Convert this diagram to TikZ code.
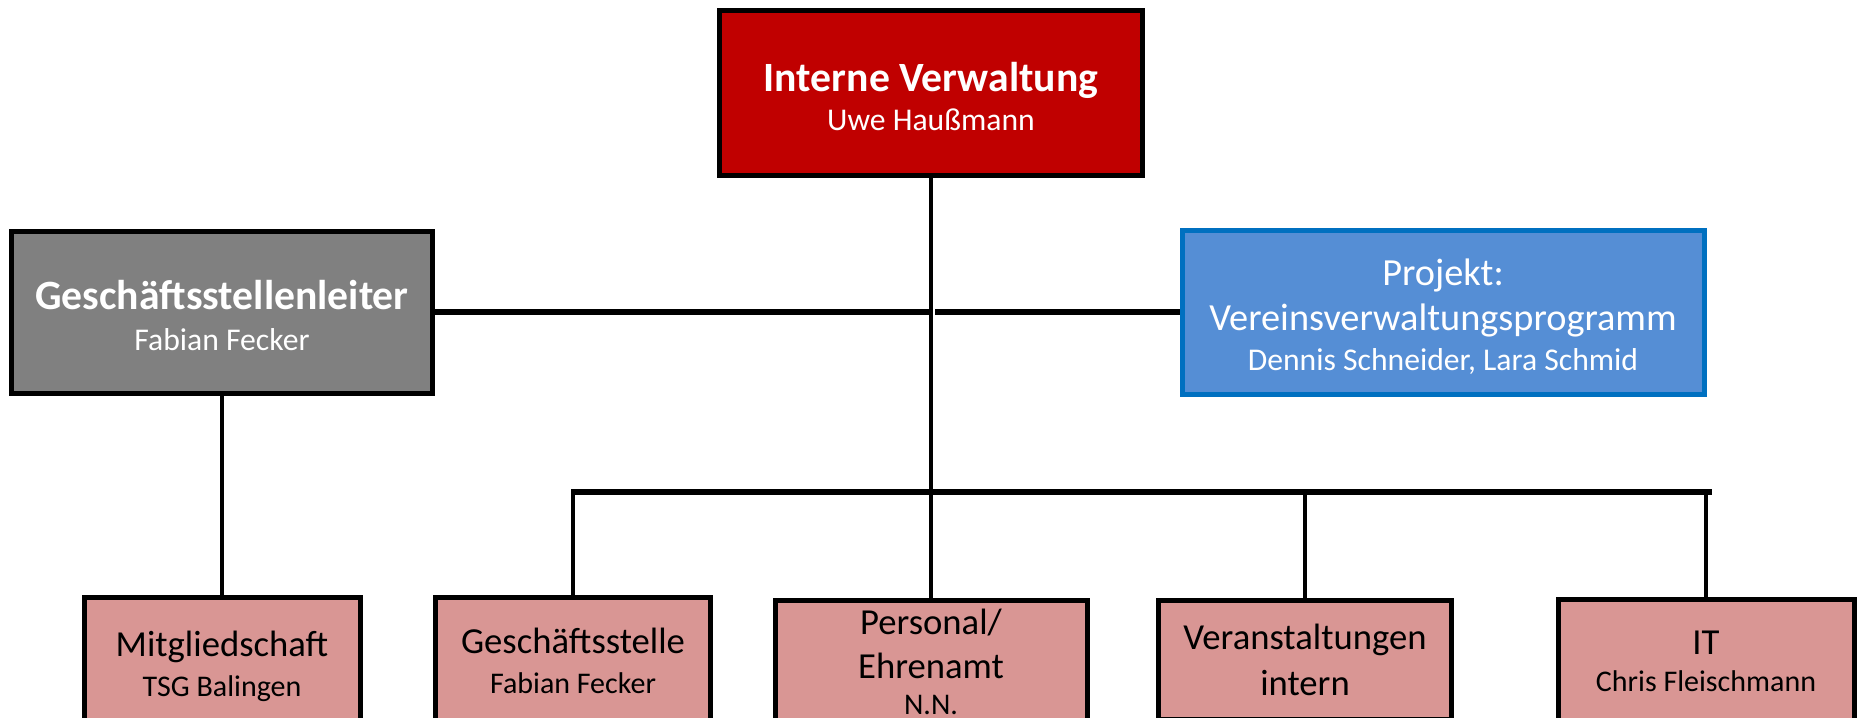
\documentclass[tikz,border=0pt]{standalone}
\usepackage{fontspec}
\setmainfont{Carlito}

\definecolor{ivrot}{HTML}{C00000}
\definecolor{leitergrau}{HTML}{808080}
\definecolor{projblau}{HTML}{558ED5}
\definecolor{projrand}{HTML}{0070C0}
\definecolor{bereichrosa}{HTML}{D99694}

\newcommand{\kopfschrift}{\fontsize{12.5}{12.3}\bfseries\selectfont}
\newcommand{\bereichschrift}{\fontsize{11}{12}\selectfont}
\newcommand{\personschrift}{\fontsize{9}{11}\selectfont}

\tikzset{
    kasten/.style={draw, line width=1.5pt, inner sep=0pt, align=center},
    linie/.style={draw, line width=1.3pt},
    schiene/.style={draw, line width=1.8pt}
}

\begin{document}
\begin{tikzpicture}[x=0.3pt, y=-0.3pt]
            \useasboundingbox (0,0) rectangle (1860,717);
            \clip (0,0) rectangle (1860,717);

            \node[kasten, fill=ivrot, text=white, minimum width=126.9pt, minimum height=49.5pt,
                font=\fontsize{9.5}{11.7}\selectfont] (iv) at (931,93)
                {\rule{0pt}{10.8pt}{\kopfschrift Interne Verwaltung}\\Uwe Haußmann};
            \node[kasten, fill=leitergrau, text=white, minimum width=126.3pt, minimum height=48.6pt,
                font=\fontsize{9.5}{12.3}\selectfont] (leiter) at (222,312)
                {\rule{0pt}{10.8pt}{\kopfschrift Geschäftsstellenleiter}\\Fabian Fecker};
            \node[kasten, draw=projrand, fill=projblau, text=white,
                minimum width=156.6pt, minimum height=49.2pt,
                font=\fontsize{11.5}{13.5}\selectfont] (projekt) at (1443,312)
                {\rule{0pt}{10.7pt}Projekt:\\Vereinsverwaltungsprogramm\\[-1.6pt]{\fontsize{9.5}{11}\selectfont Dennis Schneider, Lara Schmid}};

            \begin{scope}[
                    every node/.style={kasten, fill=bereichrosa, font=\bereichschrift}
                ]
                \node[minimum width=82.8pt, minimum height=41.1pt] (mitglied) at (222,666)
                    {Mitgliedschaft\\{\personschrift TSG Balingen}};
                \node[minimum width=82.5pt, minimum height=38.1pt] (gst) at (573,661)
                    {Geschäftsstelle\\{\personschrift Fabian Fecker}};
                \node[minimum width=93.6pt, minimum height=36.9pt,
                    font=\fontsize{11}{13.2}\selectfont] (personal) at (931,662)
                    {Personal/\\Ehrenamt\\[-2.4pt]{\personschrift N.N.}};
                \node[minimum width=87.9pt, minimum height=35.7pt,
                    font=\fontsize{11}{13.8}\selectfont] (veranst) at (1305,660)
                    {Veranstaltungen\\intern};
                \node[minimum width=88.8pt, minimum height=36.9pt,
                    font=\fontsize{11}{11.2}\selectfont] (it) at (1706,661)
                    {IT\\{\personschrift Chris Fleischmann}};
            \end{scope}

            \coordinate (kreuzl) at (929,312);
            \coordinate (kreuzr) at (935,312);
            \coordinate (busl) at (571,492);
            \coordinate (busr) at (1712,492);

            % Hauptstrang
            \draw[linie] (iv) edge (personal);
            \draw[schiene] (leiter) edge (kreuzl);
            \draw[schiene] (kreuzr) edge (projekt);
            \draw[linie] (leiter) edge (mitglied);

            % Verteiler unten
            \draw[schiene] (busl) -- (busr);
            \draw[linie] (gst.north |- busl) edge (gst);
            \draw[linie] (veranst.north |- busl) edge (veranst);
            \draw[linie] (it.north |- busl) edge (it);
        \end{tikzpicture}
\end{document}
